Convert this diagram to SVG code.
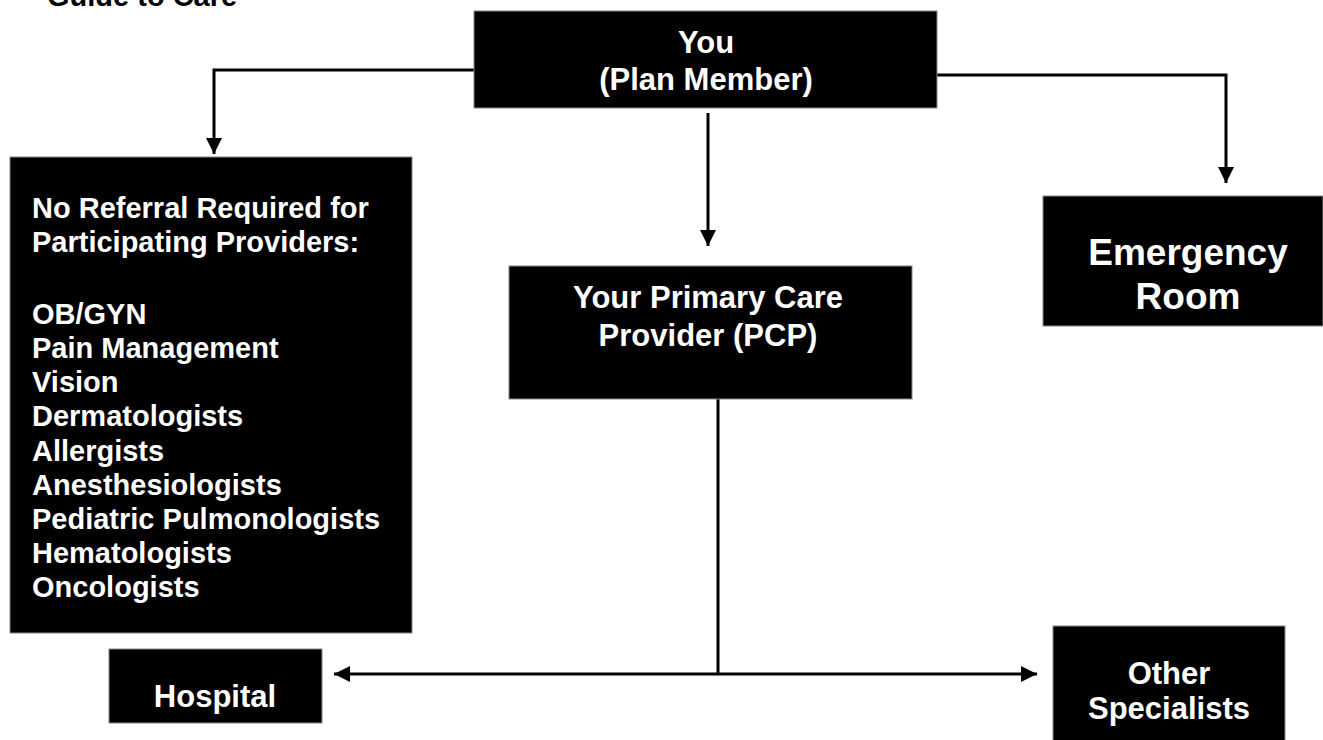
<svg xmlns="http://www.w3.org/2000/svg" width="1323" height="740" viewBox="0 0 1323 740">
  <defs>
    <marker id="arrow" viewBox="0 0 16 16" refX="16" refY="8" markerWidth="16" markerHeight="16" markerUnits="userSpaceOnUse" orient="auto">
      <path d="M0,0 L16,8 L0,16 Z" fill="#000"/>
    </marker>
    <style>
      .box { fill: #000; stroke: #888; stroke-width: 1; }
      .lbl { font-family: "Liberation Sans", Arial, sans-serif; font-weight: bold; fill: #fff; }
      .mid { text-anchor: middle; }
      .wire { fill: none; stroke: #000; stroke-width: 3; }
      .title { font-family: "Liberation Sans", Arial, sans-serif; font-weight: bold; fill: #000; font-size: 29px; }
    </style>
  </defs>

  <rect width="1323" height="740" fill="#fff"/>

  <text class="title" x="47" y="6">Guide to Care</text>

  <!-- connectors -->
  <g id="connectors">
    <polyline class="wire" points="474,70 214,70 214,154" marker-end="url(#arrow)"/>
    <polyline class="wire" points="937,75 1226,75 1226,183" marker-end="url(#arrow)"/>
    <line class="wire" x1="708" y1="113" x2="708" y2="246" marker-end="url(#arrow)"/>
    <line class="wire" x1="718" y1="399" x2="718" y2="675"/>
    <line class="wire" x1="718" y1="674" x2="334" y2="674" marker-end="url(#arrow)"/>
    <line class="wire" x1="718" y1="674" x2="1037" y2="674" marker-end="url(#arrow)"/>
  </g>

  <g id="you">
    <rect class="box" x="474" y="11" width="463" height="97"/>
    <text class="lbl mid" x="706" y="53" font-size="31">You</text>
    <text class="lbl mid" x="706" y="90" font-size="31">(Plan Member)</text>
  </g>

  <g id="no-referral">
    <rect class="box" x="10" y="157" width="402" height="476"/>
    <text class="lbl" font-size="29">
      <tspan x="32" y="218">No Referral Required for</tspan>
      <tspan x="32" y="252">Participating Providers:</tspan>
      <tspan x="32" y="324">OB/GYN</tspan>
      <tspan x="32" y="358">Pain Management</tspan>
      <tspan x="32" y="392">Vision</tspan>
      <tspan x="32" y="426">Dermatologists</tspan>
      <tspan x="32" y="461">Allergists</tspan>
      <tspan x="32" y="495">Anesthesiologists</tspan>
      <tspan x="32" y="529">Pediatric Pulmonologists</tspan>
      <tspan x="32" y="563">Hematologists</tspan>
      <tspan x="32" y="597">Oncologists</tspan>
    </text>
  </g>

  <g id="pcp">
    <rect class="box" x="509" y="266" width="403" height="133"/>
    <text class="lbl mid" x="708" y="308" font-size="31">Your Primary Care</text>
    <text class="lbl mid" x="708" y="346" font-size="31">Provider (PCP)</text>
  </g>

  <g id="emergency">
    <rect class="box" x="1043" y="196" width="280" height="130"/>
    <text class="lbl mid" x="1188" y="265" font-size="37">Emergency</text>
    <text class="lbl mid" x="1188" y="309" font-size="37">Room</text>
  </g>

  <g id="hospital">
    <rect class="box" x="109" y="649" width="213" height="74"/>
    <text class="lbl mid" x="215" y="707" font-size="31">Hospital</text>
  </g>

  <g id="other-specialists">
    <rect class="box" x="1053" y="626" width="232" height="120"/>
    <text class="lbl mid" x="1169" y="684" font-size="31">Other</text>
    <text class="lbl mid" x="1169" y="719" font-size="31">Specialists</text>
  </g>
</svg>
